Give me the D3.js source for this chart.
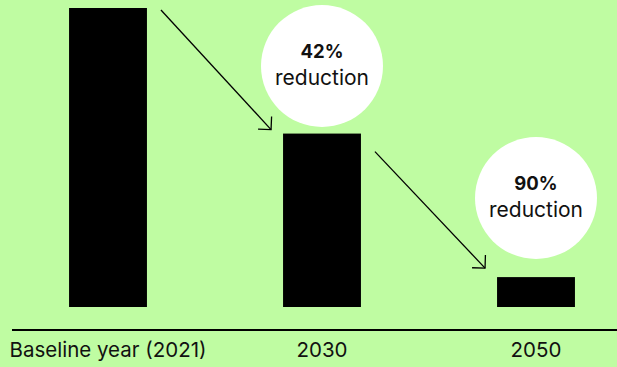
<!DOCTYPE html>
<html>
<head>
<meta charset="utf-8">
<script src="https://cdn.jsdelivr.net/npm/d3@7"></script>
<style>
  html, body { margin: 0; padding: 0; background: #bffca2; }
  svg { display: block; }
  text { font-family: Inter, "Open Sans", sans-serif; fill: #111; }
</style>
</head>
<body>
<script>
// Emissions relative to the 2021 baseline (baseline = 100)
const categories = ["Baseline year (2021)", "2030", "2050"];
const emissions = [100, 58, 10];
const reductionLabels = ["", "42%", "90%"];
const reductionWord = "reduction";

const W = 617, H = 367;
const svg = d3.select("body").append("svg").attr("width", W).attr("height", H);

const x = d3.scaleBand()
  .domain(categories)
  .range([1, 643])
  .paddingInner(0.636)
  .paddingOuter(0.318);

const y = d3.scaleLinear().domain([0, 100]).range([307, 8]);

// Bars
svg.append("g").selectAll("rect")
  .data(categories)
  .join("rect")
  .attr("x", d => x(d))
  .attr("y", (d, i) => y(emissions[i]))
  .attr("width", x.bandwidth())
  .attr("height", (d, i) => y(0) - y(emissions[i]))
  .attr("fill", "#000");

// Baseline axis with category labels
const axis = svg.append("g").attr("transform", "translate(0,330)")
  .call(d3.axisBottom(x).tickSize(0));
axis.select(".domain").remove();
axis.append("line")
  .attr("x1", 12).attr("x2", W)
  .attr("stroke", "#000").attr("stroke-width", 2.2);
axis.selectAll(".tick text")
  .attr("y", 27)
  .attr("dy", null)
  .attr("font-size", 20.5)
  .attr("font-family", "Inter, 'Open Sans', sans-serif")
  .attr("fill", "#111");

// Reduction bubbles above the later bars
const bubbleCy = [null, 66, 198];
const r = 61;
const bubbles = svg.append("g").selectAll("g")
  .data(categories.slice(1))
  .join("g")
  .attr("transform", (d, i) => `translate(${x(d) + x.bandwidth() / 2},${bubbleCy[i + 1]})`);
bubbles.append("circle").attr("r", r).attr("fill", "#fff");
bubbles.append("text")
  .attr("text-anchor", "middle")
  .attr("y", -8)
  .attr("font-size", 18.5)
  .attr("font-weight", 700)
  .text((d, i) => reductionLabels[i + 1]);
bubbles.append("text")
  .attr("text-anchor", "middle")
  .attr("y", 19)
  .attr("font-size", 21)
  .text(reductionWord);

// Arrows stepping down from each bar to the next
const arrowG = svg.append("g").attr("stroke", "#000").attr("stroke-width", 1.3).attr("fill", "none");
for (let i = 0; i < categories.length - 1; i++) {
  const x0 = x(categories[i]) + x.bandwidth() + 14;
  const y0 = y(emissions[i]) + (i === 0 ? 2 : 18);
  const x1 = x(categories[i + 1]) - 12;
  const y1 = y(emissions[i + 1]) - (i === 0 ? 4 : 9);
  arrowG.append("line").attr("x1", x0).attr("y1", y0).attr("x2", x1).attr("y2", y1);
  const ang = Math.atan2(y1 - y0, x1 - x0);
  const L = 13, spread = Math.PI / 4;
  const a1 = ang + Math.PI - spread, a2 = ang + Math.PI + spread;
  arrowG.append("path").attr("d",
    `M${x1 + L * Math.cos(a1)},${y1 + L * Math.sin(a1)}L${x1},${y1}L${x1 + L * Math.cos(a2)},${y1 + L * Math.sin(a2)}`);
}
</script>
</body>
</html>
